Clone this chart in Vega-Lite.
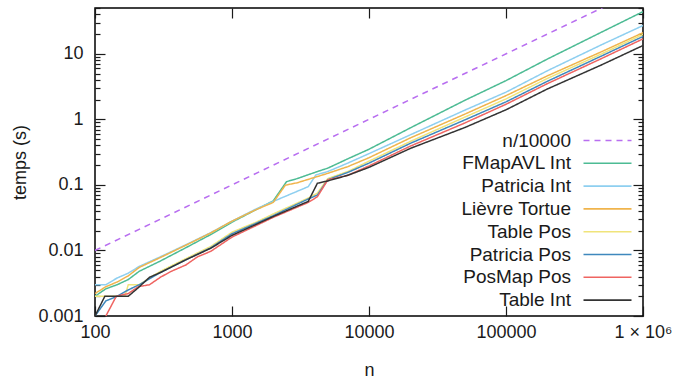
{
  "$schema": "https://vega.github.io/schema/vega-lite/v6.json",
  "width": 548,
  "height": 308,
  "autosize": {"type": "none"},
  "padding": {"left": 95, "top": 8, "right": 34, "bottom": 64},
  "config": {
    "font": "Liberation Sans",
    "view": {"stroke": "#000000", "strokeWidth": 1.5},
    "axis": {"domain": false, "grid": false, "labelFontSize": 18, "titleFontSize": 18, "titleFontWeight": "normal", "labelColor": "#1a1a1a", "titleColor": "#1a1a1a", "tickColor": "#1a1a1a", "tickWidth": 1.2},
    "legend": {"orient": "none", "legendX": 503, "legendY": 123, "labelFontSize": 19, "labelColor": "#1a1a1a", "labelAlign": "right", "labelOffset": -46, "symbolType": "M-4,0H4", "symbolSize": 144, "symbolStrokeWidth": 1.6, "rowPadding": 2.8, "padding": 0, "labelLimit": 400}
  },
  "data": {"values": [
    {"s": "n/10000", "n": 100, "t": 0.01}, {"s": "n/10000", "n": 1000000, "t": 100},
    {"s": "FMapAVL Int", "n": 100, "t": 0.002}, {"s": "FMapAVL Int", "n": 120, "t": 0.0026}, {"s": "FMapAVL Int", "n": 145, "t": 0.003}, {"s": "FMapAVL Int", "n": 175, "t": 0.0036}, {"s": "FMapAVL Int", "n": 210, "t": 0.0048}, {"s": "FMapAVL Int", "n": 300, "t": 0.0069}, {"s": "FMapAVL Int", "n": 460, "t": 0.011}, {"s": "FMapAVL Int", "n": 700, "t": 0.0175}, {"s": "FMapAVL Int", "n": 1000, "t": 0.027}, {"s": "FMapAVL Int", "n": 1500, "t": 0.042}, {"s": "FMapAVL Int", "n": 2000, "t": 0.057}, {"s": "FMapAVL Int", "n": 2500, "t": 0.112}, {"s": "FMapAVL Int", "n": 3000, "t": 0.125}, {"s": "FMapAVL Int", "n": 4200, "t": 0.16}, {"s": "FMapAVL Int", "n": 5000, "t": 0.18}, {"s": "FMapAVL Int", "n": 7000, "t": 0.25}, {"s": "FMapAVL Int", "n": 10000, "t": 0.35}, {"s": "FMapAVL Int", "n": 20000, "t": 0.74}, {"s": "FMapAVL Int", "n": 50000, "t": 1.95}, {"s": "FMapAVL Int", "n": 100000, "t": 3.9}, {"s": "FMapAVL Int", "n": 200000, "t": 8.3}, {"s": "FMapAVL Int", "n": 500000, "t": 21.5}, {"s": "FMapAVL Int", "n": 1000000, "t": 44},
    {"s": "Patricia Int", "n": 100, "t": 0.003}, {"s": "Patricia Int", "n": 120, "t": 0.003}, {"s": "Patricia Int", "n": 145, "t": 0.0038}, {"s": "Patricia Int", "n": 175, "t": 0.0045}, {"s": "Patricia Int", "n": 210, "t": 0.0057}, {"s": "Patricia Int", "n": 300, "t": 0.008}, {"s": "Patricia Int", "n": 460, "t": 0.0122}, {"s": "Patricia Int", "n": 700, "t": 0.0187}, {"s": "Patricia Int", "n": 1000, "t": 0.028}, {"s": "Patricia Int", "n": 1500, "t": 0.043}, {"s": "Patricia Int", "n": 2000, "t": 0.056}, {"s": "Patricia Int", "n": 3600, "t": 0.094}, {"s": "Patricia Int", "n": 4100, "t": 0.142}, {"s": "Patricia Int", "n": 5000, "t": 0.16}, {"s": "Patricia Int", "n": 7000, "t": 0.215}, {"s": "Patricia Int", "n": 10000, "t": 0.3}, {"s": "Patricia Int", "n": 20000, "t": 0.58}, {"s": "Patricia Int", "n": 50000, "t": 1.38}, {"s": "Patricia Int", "n": 100000, "t": 2.6}, {"s": "Patricia Int", "n": 200000, "t": 5.5}, {"s": "Patricia Int", "n": 500000, "t": 13.8}, {"s": "Patricia Int", "n": 1000000, "t": 27},
    {"s": "Lièvre Tortue", "n": 100, "t": 0.0022}, {"s": "Lièvre Tortue", "n": 120, "t": 0.0028}, {"s": "Lièvre Tortue", "n": 145, "t": 0.0033}, {"s": "Lièvre Tortue", "n": 175, "t": 0.0041}, {"s": "Lièvre Tortue", "n": 210, "t": 0.0055}, {"s": "Lièvre Tortue", "n": 300, "t": 0.0078}, {"s": "Lièvre Tortue", "n": 460, "t": 0.012}, {"s": "Lièvre Tortue", "n": 700, "t": 0.0185}, {"s": "Lièvre Tortue", "n": 1000, "t": 0.028}, {"s": "Lièvre Tortue", "n": 1500, "t": 0.042}, {"s": "Lièvre Tortue", "n": 2000, "t": 0.054}, {"s": "Lièvre Tortue", "n": 2450, "t": 0.099}, {"s": "Lièvre Tortue", "n": 3000, "t": 0.108}, {"s": "Lièvre Tortue", "n": 5000, "t": 0.15}, {"s": "Lièvre Tortue", "n": 7000, "t": 0.19}, {"s": "Lièvre Tortue", "n": 10000, "t": 0.26}, {"s": "Lièvre Tortue", "n": 20000, "t": 0.52}, {"s": "Lièvre Tortue", "n": 50000, "t": 1.2}, {"s": "Lièvre Tortue", "n": 100000, "t": 2.3}, {"s": "Lièvre Tortue", "n": 200000, "t": 4.6}, {"s": "Lièvre Tortue", "n": 500000, "t": 10.8}, {"s": "Lièvre Tortue", "n": 1000000, "t": 21},
    {"s": "Table Pos", "n": 100, "t": 0.002}, {"s": "Table Pos", "n": 165, "t": 0.002}, {"s": "Table Pos", "n": 175, "t": 0.003}, {"s": "Table Pos", "n": 210, "t": 0.003}, {"s": "Table Pos", "n": 250, "t": 0.0038}, {"s": "Table Pos", "n": 300, "t": 0.0048}, {"s": "Table Pos", "n": 460, "t": 0.0075}, {"s": "Table Pos", "n": 700, "t": 0.0115}, {"s": "Table Pos", "n": 1000, "t": 0.019}, {"s": "Table Pos", "n": 1500, "t": 0.027}, {"s": "Table Pos", "n": 2000, "t": 0.036}, {"s": "Table Pos", "n": 3600, "t": 0.063}, {"s": "Table Pos", "n": 4200, "t": 0.075}, {"s": "Table Pos", "n": 5000, "t": 0.125}, {"s": "Table Pos", "n": 7000, "t": 0.16}, {"s": "Table Pos", "n": 10000, "t": 0.23}, {"s": "Table Pos", "n": 20000, "t": 0.46}, {"s": "Table Pos", "n": 50000, "t": 1.08}, {"s": "Table Pos", "n": 100000, "t": 2.05}, {"s": "Table Pos", "n": 200000, "t": 4.2}, {"s": "Table Pos", "n": 500000, "t": 10}, {"s": "Table Pos", "n": 1000000, "t": 19.8},
    {"s": "Patricia Pos", "n": 100, "t": 0.001}, {"s": "Patricia Pos", "n": 120, "t": 0.0017}, {"s": "Patricia Pos", "n": 145, "t": 0.002}, {"s": "Patricia Pos", "n": 175, "t": 0.0025}, {"s": "Patricia Pos", "n": 210, "t": 0.003}, {"s": "Patricia Pos", "n": 250, "t": 0.0037}, {"s": "Patricia Pos", "n": 300, "t": 0.0046}, {"s": "Patricia Pos", "n": 460, "t": 0.0072}, {"s": "Patricia Pos", "n": 700, "t": 0.011}, {"s": "Patricia Pos", "n": 1000, "t": 0.018}, {"s": "Patricia Pos", "n": 1500, "t": 0.026}, {"s": "Patricia Pos", "n": 2000, "t": 0.034}, {"s": "Patricia Pos", "n": 3600, "t": 0.061}, {"s": "Patricia Pos", "n": 4200, "t": 0.07}, {"s": "Patricia Pos", "n": 5000, "t": 0.12}, {"s": "Patricia Pos", "n": 7000, "t": 0.155}, {"s": "Patricia Pos", "n": 10000, "t": 0.215}, {"s": "Patricia Pos", "n": 20000, "t": 0.43}, {"s": "Patricia Pos", "n": 50000, "t": 0.98}, {"s": "Patricia Pos", "n": 100000, "t": 1.85}, {"s": "Patricia Pos", "n": 200000, "t": 3.8}, {"s": "Patricia Pos", "n": 500000, "t": 9.3}, {"s": "Patricia Pos", "n": 1000000, "t": 18.4},
    {"s": "PosMap Pos", "n": 120, "t": 0.001}, {"s": "PosMap Pos", "n": 143, "t": 0.002}, {"s": "PosMap Pos", "n": 175, "t": 0.0022}, {"s": "PosMap Pos", "n": 207, "t": 0.0028}, {"s": "PosMap Pos", "n": 250, "t": 0.003}, {"s": "PosMap Pos", "n": 300, "t": 0.0039}, {"s": "PosMap Pos", "n": 360, "t": 0.0048}, {"s": "PosMap Pos", "n": 460, "t": 0.006}, {"s": "PosMap Pos", "n": 560, "t": 0.008}, {"s": "PosMap Pos", "n": 700, "t": 0.0097}, {"s": "PosMap Pos", "n": 1000, "t": 0.016}, {"s": "PosMap Pos", "n": 1500, "t": 0.024}, {"s": "PosMap Pos", "n": 2000, "t": 0.032}, {"s": "PosMap Pos", "n": 3600, "t": 0.054}, {"s": "PosMap Pos", "n": 4200, "t": 0.066}, {"s": "PosMap Pos", "n": 5000, "t": 0.119}, {"s": "PosMap Pos", "n": 7000, "t": 0.14}, {"s": "PosMap Pos", "n": 10000, "t": 0.195}, {"s": "PosMap Pos", "n": 20000, "t": 0.39}, {"s": "PosMap Pos", "n": 50000, "t": 0.88}, {"s": "PosMap Pos", "n": 100000, "t": 1.7}, {"s": "PosMap Pos", "n": 200000, "t": 3.5}, {"s": "PosMap Pos", "n": 500000, "t": 8.5}, {"s": "PosMap Pos", "n": 1000000, "t": 16.9},
    {"s": "Table Int", "n": 100, "t": 0.001}, {"s": "Table Int", "n": 118, "t": 0.002}, {"s": "Table Int", "n": 175, "t": 0.002}, {"s": "Table Int", "n": 207, "t": 0.0027}, {"s": "Table Int", "n": 250, "t": 0.0039}, {"s": "Table Int", "n": 300, "t": 0.0046}, {"s": "Table Int", "n": 460, "t": 0.0072}, {"s": "Table Int", "n": 700, "t": 0.0108}, {"s": "Table Int", "n": 1000, "t": 0.017}, {"s": "Table Int", "n": 1500, "t": 0.025}, {"s": "Table Int", "n": 2000, "t": 0.033}, {"s": "Table Int", "n": 3600, "t": 0.056}, {"s": "Table Int", "n": 4200, "t": 0.106}, {"s": "Table Int", "n": 5000, "t": 0.115}, {"s": "Table Int", "n": 7000, "t": 0.14}, {"s": "Table Int", "n": 10000, "t": 0.185}, {"s": "Table Int", "n": 20000, "t": 0.36}, {"s": "Table Int", "n": 50000, "t": 0.75}, {"s": "Table Int", "n": 100000, "t": 1.4}, {"s": "Table Int", "n": 200000, "t": 2.9}, {"s": "Table Int", "n": 500000, "t": 6.8}, {"s": "Table Int", "n": 1000000, "t": 13.4}
  ]},
  "layer": [
    {
      "mark": {"type": "line", "clip": true, "strokeWidth": 1.5},
      "encoding": {
        "x": {"field": "n", "type": "quantitative", "scale": {"type": "log", "domain": [100, 1000000], "nice": false},
          "axis": {"orient": "bottom", "values": [100, 1000, 10000, 100000, 1000000], "labelExpr": "datum.value >= 1000000 ? '1 × 10⁶' : format(datum.value, 'd')", "tickSize": -10, "labelPadding": 17, "title": "n", "titlePadding": 20, "labelFlush": false}},
        "y": {"field": "t", "type": "quantitative", "scale": {"type": "log", "domain": [0.001, 50], "nice": false},
          "axis": {"orient": "left", "values": [0.001, 0.01, 0.1, 1, 10], "labelExpr": "format(datum.value, '~g')", "tickSize": -10, "labelPadding": 22, "title": "temps (s)", "titlePadding": 8, "labelFlush": false}},
        "color": {"field": "s", "type": "nominal", "title": null,
          "scale": {"domain": ["n/10000", "FMapAVL Int", "Patricia Int", "Lièvre Tortue", "Table Pos", "Patricia Pos", "PosMap Pos", "Table Int"],
                    "range": ["#b86ef0", "#4dbb94", "#8ecff0", "#f0b44c", "#f0e47a", "#3f88bd", "#ef6461", "#333333"]}},
        "strokeDash": {"field": "s", "type": "nominal", "title": null,
          "scale": {"domain": ["n/10000", "FMapAVL Int", "Patricia Int", "Lièvre Tortue", "Table Pos", "Patricia Pos", "PosMap Pos", "Table Int"],
                    "range": [[6, 5], [1, 0], [1, 0], [1, 0], [1, 0], [1, 0], [1, 0], [1, 0]]}}
      }
    },
    {
      "mark": {"type": "line", "opacity": 0},
      "encoding": {
        "x": {"field": "n", "type": "quantitative", "axis": {"orient": "top", "values": [100, 1000, 10000, 100000, 1000000], "labels": false, "tickSize": -10, "title": null}},
        "y": {"field": "t", "type": "quantitative", "axis": {"orient": "right", "values": [0.001, 0.01, 0.1, 1, 10], "labels": false, "tickSize": -10, "title": null}},
        "detail": {"field": "s"}
      }
    },
    {
      "mark": {"type": "line", "opacity": 0},
      "encoding": {
        "x": {"field": "n", "type": "quantitative", "axis": null},
        "y": {"field": "t", "type": "quantitative", "axis": {"orient": "left", "values": [0.002, 0.003, 0.004, 0.005, 0.006, 0.007, 0.008, 0.009, 0.02, 0.03, 0.04, 0.05, 0.06, 0.07, 0.08, 0.09, 0.2, 0.3, 0.4, 0.5, 0.6, 0.7, 0.8, 0.9, 2, 3, 4, 5, 6, 7, 8, 9, 20, 30, 40, 50], "labels": false, "tickSize": -5, "title": null}},
        "detail": {"field": "s"}
      }
    },
    {
      "mark": {"type": "line", "opacity": 0},
      "encoding": {
        "x": {"field": "n", "type": "quantitative", "axis": null},
        "y": {"field": "t", "type": "quantitative", "axis": {"orient": "right", "values": [0.002, 0.003, 0.004, 0.005, 0.006, 0.007, 0.008, 0.009, 0.02, 0.03, 0.04, 0.05, 0.06, 0.07, 0.08, 0.09, 0.2, 0.3, 0.4, 0.5, 0.6, 0.7, 0.8, 0.9, 2, 3, 4, 5, 6, 7, 8, 9, 20, 30, 40, 50], "labels": false, "tickSize": -5, "title": null}},
        "detail": {"field": "s"}
      }
    }
  ],
  "resolve": {"axis": {"x": "independent", "y": "independent"}}
}
